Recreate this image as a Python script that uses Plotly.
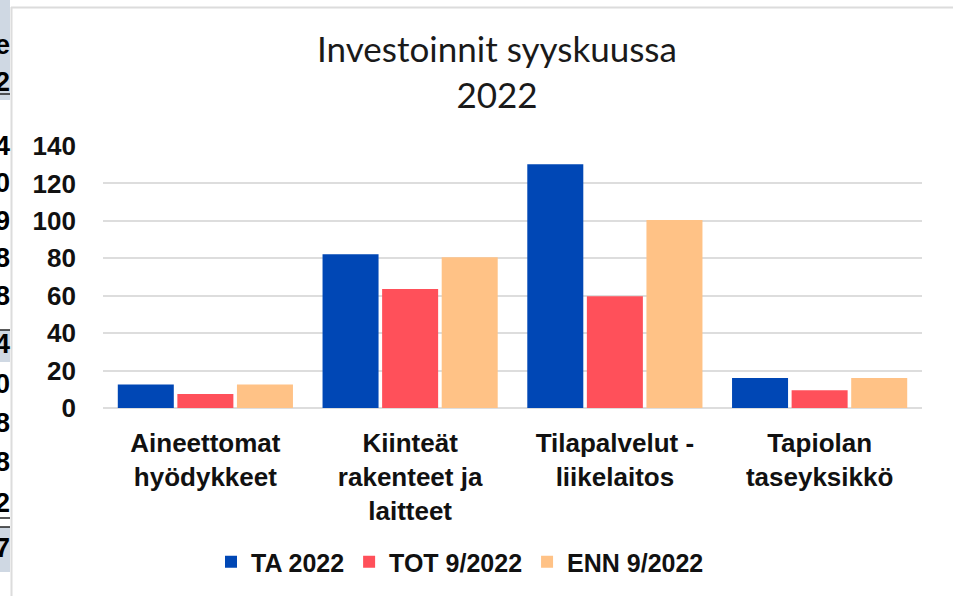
import plotly.graph_objects as go

categories = ["Aineettomat<br>hyödykkeet", "Kiinteät<br>rakenteet ja<br>laitteet",
              "Tilapalvelut -<br>liikelaitos", "Tapiolan<br>taseyksikkö"]
series_names = ["TA 2022", "TOT 9/2022", "ENN 9/2022"]
ta_2022 = [12.5, 82.2, 130.3, 16.0]
tot_9_2022 = [7.5, 63.6, 59.7, 9.5]
enn_9_2022 = [12.5, 80.6, 100.4, 16.0]
y_ticks = [0, 20, 40, 60, 80, 100, 120, 140]
title_text = "Investoinnit syyskuussa<br>2022"

# cropped table column visible at the left edge of the screenshot
strip_chars = ["e", "2", "4", "0", "9", "8", "8", "4", "0", "8", "8", "2", "7"]
strip_rows_px = [45, 82, 146, 183, 221, 258, 296, 344, 384, 423, 462, 503, 548]

colors = ["#0047B5", "#FF505A", "#FFC286"]

W, H = 953, 596
L, R, T, B = 103, 31, 146, 188
PW, PH = W - L - R, H - T - B


def xp(px):
    return (px - L) / PW


def yp(py):
    return (H - B - py) / PH


fig = go.Figure()
for name, vals, c in zip(series_names, [ta_2022, tot_9_2022, enn_9_2022], colors):
    fig.add_trace(go.Bar(x=categories, y=vals, name=name, marker_color=c,
                         marker_line_width=0))

shapes = []
# left strip backgrounds
for y0, y1, col in [(0, 100, "#CFD8E3"), (100, 330, "#FFFFFF"), (330, 362, "#CFD8E3"),
                    (362, 527, "#FFFFFF"), (527, 572, "#CFD8E3"), (572, 596, "#FFFFFF")]:
    shapes.append(dict(type="rect", xref="paper", yref="paper", x0=xp(0), x1=xp(10),
                       y0=yp(y1), y1=yp(y0), fillcolor=col, line_width=0, layer="below"))
for yl in [94, 330, 518, 527]:
    shapes.append(dict(type="line", xref="paper", yref="paper", x0=xp(0), x1=xp(10),
                       y0=yp(yl), y1=yp(yl), line=dict(color="#222222", width=1.5)))
# chart frame (top and left edges)
shapes.append(dict(type="line", xref="paper", yref="paper", x0=xp(11.5), x1=xp(11.5),
                   y0=yp(7), y1=yp(596), line=dict(color="#DCDCDC", width=2)))
shapes.append(dict(type="line", xref="paper", yref="paper", x0=xp(11), x1=xp(953),
                   y0=yp(7.5), y1=yp(7.5), line=dict(color="#DCDCDC", width=2)))

annotations = []
for ch, py in zip(strip_chars, strip_rows_px):
    annotations.append(dict(text="<b>%s</b>" % ch, xref="paper", yref="paper",
                            x=xp(12), y=yp(py), xanchor="right", yanchor="middle",
                            showarrow=False,
                            font=dict(family="Liberation Sans, Arial", size=27, color="#000000")))

fig.update_layout(
    width=W, height=H,
    margin=dict(l=L, r=R, t=T, b=B, autoexpand=False),
    paper_bgcolor="white", plot_bgcolor="white",
    title=dict(text=title_text, xref="container", x=497 / W, xanchor="center",
               yref="container", y=1 - 62 / H, yanchor="middle",
               font=dict(family="Lato", size=35, color="#1A1A1A")),
    barmode="group", bargap=0.127, bargroupgap=0.06,
    xaxis=dict(showgrid=False, showline=False, ticks="", ticklabelstandoff=17,
               tickfont=dict(family="Liberation Sans, Arial", size=26, color="#111111"),
               range=[-0.5, 3.5]),
    yaxis=dict(range=[0, 140], tickvals=y_ticks, showgrid=True, gridcolor="#DDDDDD",
               gridwidth=2, zeroline=True, zerolinecolor="#DDDDDD", zerolinewidth=2,
               ticks="", ticklabelstandoff=26,
               tickfont=dict(family="Liberation Sans, Arial", size=26, color="#111111")),
    legend=dict(orientation="h", x=xp(211), xanchor="left", y=yp(562), yanchor="middle",
                font=dict(family="Liberation Sans, Arial", size=25, color="#111111"),
                traceorder="normal"),
    shapes=shapes,
    annotations=annotations,
)

# bold category and tick labels
fig.update_xaxes(tickvals=categories, ticktext=["<b>%s</b>" % c for c in categories])
fig.update_yaxes(ticktext=["<b>%d</b>" % v for v in y_ticks])
fig.for_each_trace(lambda t: t.update(name="<b>%s</b>" % t.name))

fig.write_html("out.html", config={"displayModeBar": False},
               post_script="document.body.style.margin='0px';document.body.style.overflow='hidden';")
